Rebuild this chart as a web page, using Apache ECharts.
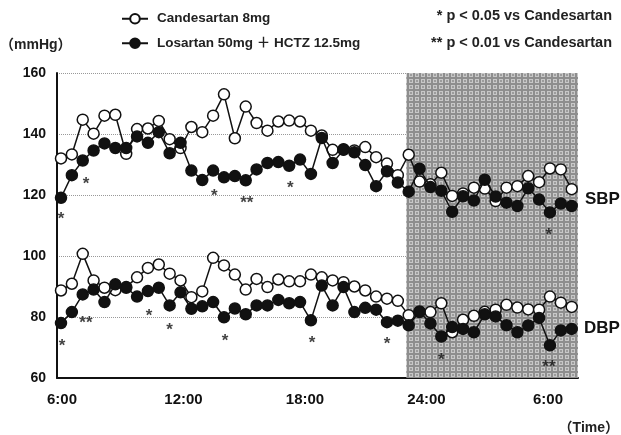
<!DOCTYPE html>
<html>
<head>
<meta charset="utf-8">
<script src="https://cdn.jsdelivr.net/npm/echarts@6/dist/echarts.min.js"></script>
<style>
html,body{margin:0;padding:0;background:#fff;}
#main{width:621px;height:435px;}
</style>
</head>
<body>
<div id="main"></div>
<script>
/*x轴时刻标签(距6:00的小时数)*/
var timeTicks = [0, 6, 12, 18, 24];
var timeNames = ['6:00', '12:00', '18:00', '24:00', '6:00'];
/*图例名称*/
var candName = 'Candesartan 8mg';
var losName = 'Losartan 50mg \uff0b HCTZ 12.5mg';
/*收缩压 SBP*/
var sbpCand = [132.0, 133.3, 144.7, 140.1, 146.0, 146.3, 133.5, 141.6, 141.8, 144.3, 138.3, 135.4,
    142.3, 140.6, 146.0, 153.0, 138.6, 149.0, 143.6, 141.1, 144.1, 144.4, 144.1, 141.1,
    139.5, 134.8, 135.0, 134.6, 135.7, 132.4, 130.3, 126.5, 133.2, 124.4, 123.5, 127.3,
    119.7, 120.5, 122.4, 122.1, 118.0, 122.4, 122.9, 126.2, 124.2, 128.7, 128.4, 121.9];
var sbpLos = [119.1, 126.5, 131.3, 134.6, 136.9, 135.4, 135.4, 139.2, 137.1, 140.6, 133.7, 137.1,
    128.0, 124.9, 128.0, 125.8, 126.2, 124.8, 128.4, 130.5, 130.8, 129.6, 131.6, 126.9,
    138.7, 130.5, 134.8, 134.0, 129.8, 122.9, 127.8, 124.1, 121.1, 128.6, 122.6, 121.4,
    114.5, 119.6, 118.2, 125.0, 119.5, 117.5, 116.4, 122.2, 118.5, 114.3, 117.2, 116.4];
/*舒张压 DBP*/
var dbpCand = [88.7, 90.9, 100.7, 92.0, 89.6, 88.8, 89.8, 93.0, 96.1, 97.2, 94.2, 92.0,
    86.5, 88.4, 99.4, 96.9, 93.9, 89.0, 92.5, 89.8, 92.3, 91.7, 91.7, 93.9,
    93.0, 92.0, 91.4, 90.0, 88.7, 86.7, 86.0, 85.3, 80.6, 81.6, 81.6, 84.5,
    75.0, 79.1, 80.4, 81.7, 82.4, 84.0, 83.1, 82.5, 82.4, 86.7, 84.7, 83.3];
var dbpLos = [78.0, 81.6, 87.4, 89.0, 84.9, 90.7, 89.6, 86.7, 88.5, 89.6, 83.8, 88.1,
    82.7, 83.5, 84.9, 79.9, 82.8, 80.9, 83.8, 83.8, 85.6, 84.5, 84.9, 78.9,
    90.3, 83.8, 89.8, 81.6, 83.0, 82.4, 78.3, 78.8, 77.3, 81.8, 77.9, 73.6,
    76.7, 76.1, 75.0, 80.9, 80.2, 77.3, 75.0, 77.2, 79.7, 70.7, 75.6, 76.1];
/*显著性标记 [测定序号, mmHg, 文字]*/
var sbpStars = [[0, 113.9, '*'], [2.3, 125.6, '*'], [14.1, 121.6, '*'], [17.1, 119.2, '**'],
    [21.1, 124.0, '*'], [44.9, 108.8, '*']];
var dbpStars = [[0.1, 72.3, '*'], [2.3, 79.9, '**'], [8.1, 82.1, '*'], [10, 77.5, '*'],
    [15.1, 73.9, '*'], [23.1, 73.3, '*'], [30, 73.0, '*'], [35, 67.9, '*'], [44.9, 65.4, '**']];
/*夜间阴影(小时)*/
var nightRange = [17, 25.48];

var FONT = '"Liberation Sans", Arial, "Noto Sans CJK JP", sans-serif';

/*阴影网点纹理*/
function makePattern() {
    var cvs = document.createElement('canvas');
    cvs.width = 6;
    cvs.height = 6;
    var ctx = cvs.getContext('2d');
    ctx.fillStyle = '#8e8e8e';
    ctx.fillRect(0, 0, 6, 6);
    ctx.fillStyle = '#c8c8c8';
    ctx.fillRect(1, 1, 4, 4);
    ctx.fillStyle = '#9c9c9c';
    ctx.fillRect(2, 2, 2, 2);
    return cvs;
}

function lineSeries(name, values, filled) {
    return {
        type: 'line',
        name: name,
        xAxisIndex: 1,
        data: values.map(function (v, i) { return [i, v]; }),
        symbol: 'circle',
        symbolSize: 11,
        lineStyle: {color: '#111', width: 1.5},
        itemStyle: {color: filled ? '#111' : '#fff', borderColor: '#111', borderWidth: 1.5},
        z: filled ? 4 : 3
    };
}

function starSeries(stars) {
    return {
        type: 'scatter',
        xAxisIndex: 1,
        silent: true,
        symbolSize: 1,
        itemStyle: {color: 'rgba(0,0,0,0)'},
        data: stars,
        label: {
            show: true,
            position: 'inside',
            offset: [0, 6],
            color: '#111',
            fontSize: 17,
            fontWeight: 'bold',
            fontFamily: FONT,
            formatter: function (p) { return p.data[2]; }
        },
        z: 5
    };
}

var chart = echarts.init(document.getElementById('main'));
chart.setOption({
    animation: false,
    backgroundColor: '#fff',
    textStyle: {fontFamily: FONT},
    grid: {left: 57, right: 43, top: 73, bottom: 57},
    legend: {
        data: [candName, losName],
        orient: 'vertical',
        left: 116,
        top: 7,
        itemWidth: 26,
        itemHeight: 12,
        itemGap: 11,
        textStyle: {fontSize: 13.5, fontWeight: 'bold', color: '#222', fontFamily: FONT, padding: [0, 0, 0, 4]}
    },
    xAxis: [{
        type: 'value',
        min: -0.247,
        max: 25.48,
        axisLine: {show: true, onZero: false, lineStyle: {color: '#111', width: 2}},
        axisTick: {show: false},
        splitLine: {show: false},
        axisLabel: {
            customValues: timeTicks,
            margin: 14,
            fontSize: 15,
            fontWeight: 'bold',
            color: '#111',
            formatter: function (v) { return timeNames[timeTicks.indexOf(v)]; }
        }
    }, {
        type: 'value',
        min: -0.368,
        max: 47.58,
        show: false
    }],
    yAxis: {
        type: 'value',
        min: 60,
        max: 160,
        interval: 20,
        axisLine: {show: true, onZero: false, lineStyle: {color: '#111', width: 2}},
        axisTick: {show: false},
        axisLabel: {margin: 11, fontSize: 14, fontWeight: 'bold', color: '#111'},
        splitLine: {lineStyle: {color: '#999', type: 'dotted', width: 1}}
    },
    series: [
        {
            type: 'line',
            xAxisIndex: 0,
            data: [],
            silent: true,
            z: 1,
            markArea: {
                silent: true,
                itemStyle: {color: {image: makePattern(), repeat: 'repeat'}},
                data: [[{xAxis: nightRange[0]}, {xAxis: nightRange[1]}]]
            }
        },
        lineSeries(candName, sbpCand, false),
        lineSeries(losName, sbpLos, true),
        lineSeries(candName, dbpCand, false),
        lineSeries(losName, dbpLos, true),
        starSeries(sbpStars),
        starSeries(dbpStars)
    ],
    graphic: [
        {type: 'text', left: 0, top: 38, style: {text: '\uff08mmHg\uff09', fontSize: 14, fontWeight: 'bold', fill: '#222', fontFamily: FONT}},
        {type: 'text', right: 2, top: 421, style: {text: '\uff08Time\uff09', fontSize: 14, fontWeight: 'bold', fill: '#222', fontFamily: FONT}},
        {type: 'text', left: 585, top: 191, style: {text: 'SBP', fontSize: 17, fontWeight: 'bold', fill: '#111', fontFamily: FONT}},
        {type: 'text', left: 584, top: 320, style: {text: 'DBP', fontSize: 17, fontWeight: 'bold', fill: '#111', fontFamily: FONT}},
        {type: 'text', right: 9, top: 9, style: {text: '* p < 0.05 vs Candesartan', fontSize: 14.5, fontWeight: 'bold', fill: '#222', fontFamily: FONT}},
        {type: 'text', right: 9, top: 36, style: {text: '** p < 0.01 vs Candesartan', fontSize: 14.5, fontWeight: 'bold', fill: '#222', fontFamily: FONT}}
    ]
});
</script>
</body>
</html>
